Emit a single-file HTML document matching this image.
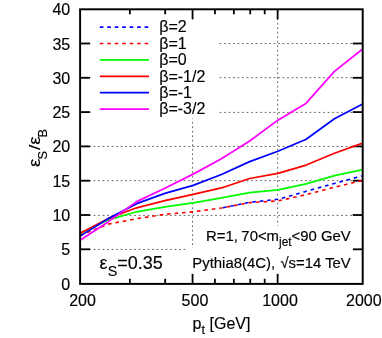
<!DOCTYPE html>
<html><head><meta charset="utf-8"><title>plot</title>
<style>html,body{margin:0;padding:0;background:#fff;overflow:hidden}svg{display:block;will-change:transform}text{font-family:"Liberation Sans",sans-serif;fill:#000;stroke:#000;stroke-width:0.15px}</style></head><body>
<svg width="382" height="338" viewBox="0 0 382 338">
<rect width="382" height="338" fill="#fff"/>
<g stroke="#585858" stroke-width="0.9" stroke-dasharray="1.8 2.7" fill="none">
<line x1="80.10" y1="249.45" x2="362.70" y2="249.45"/>
<line x1="80.10" y1="215.40" x2="362.70" y2="215.40"/>
<line x1="80.10" y1="180.65" x2="362.70" y2="180.65"/>
<line x1="80.10" y1="146.45" x2="362.70" y2="146.45"/>
<line x1="80.10" y1="112.40" x2="362.70" y2="112.40"/>
<line x1="80.10" y1="77.65" x2="362.70" y2="77.65"/>
<line x1="80.10" y1="43.55" x2="362.70" y2="43.55"/>
<line x1="192.56" y1="9.30" x2="192.56" y2="283.90"/>
<line x1="277.63" y1="9.30" x2="277.63" y2="283.90"/>
</g>
<g stroke="#000" stroke-width="1.8" fill="none">
<line x1="80.10" y1="249.30" x2="90.10" y2="249.30"/>
<line x1="362.70" y1="249.30" x2="352.70" y2="249.30"/>
<line x1="80.10" y1="215.00" x2="90.10" y2="215.00"/>
<line x1="362.70" y1="215.00" x2="352.70" y2="215.00"/>
<line x1="80.10" y1="180.70" x2="90.10" y2="180.70"/>
<line x1="362.70" y1="180.70" x2="352.70" y2="180.70"/>
<line x1="80.10" y1="146.40" x2="90.10" y2="146.40"/>
<line x1="362.70" y1="146.40" x2="352.70" y2="146.40"/>
<line x1="80.10" y1="112.10" x2="90.10" y2="112.10"/>
<line x1="362.70" y1="112.10" x2="352.70" y2="112.10"/>
<line x1="80.10" y1="77.80" x2="90.10" y2="77.80"/>
<line x1="362.70" y1="77.80" x2="352.70" y2="77.80"/>
<line x1="80.10" y1="43.50" x2="90.10" y2="43.50"/>
<line x1="362.70" y1="43.50" x2="352.70" y2="43.50"/>
<line x1="192.56" y1="283.90" x2="192.56" y2="273.70"/>
<line x1="192.56" y1="9.30" x2="192.56" y2="19.30"/>
<line x1="277.63" y1="283.90" x2="277.63" y2="273.70"/>
<line x1="277.63" y1="9.30" x2="277.63" y2="19.30"/>
<line x1="129.86" y1="283.90" x2="129.86" y2="278.80"/>
<line x1="129.86" y1="9.30" x2="129.86" y2="14.30"/>
<line x1="165.17" y1="283.90" x2="165.17" y2="278.80"/>
<line x1="165.17" y1="9.30" x2="165.17" y2="14.30"/>
<line x1="214.93" y1="283.90" x2="214.93" y2="278.80"/>
<line x1="214.93" y1="9.30" x2="214.93" y2="14.30"/>
<line x1="233.85" y1="283.90" x2="233.85" y2="278.80"/>
<line x1="233.85" y1="9.30" x2="233.85" y2="14.30"/>
<line x1="250.24" y1="283.90" x2="250.24" y2="278.80"/>
<line x1="250.24" y1="9.30" x2="250.24" y2="14.30"/>
<line x1="264.70" y1="283.90" x2="264.70" y2="278.80"/>
<line x1="264.70" y1="9.30" x2="264.70" y2="14.30"/>
</g>
<g fill="none" stroke-width="1.75" stroke-linejoin="round" stroke-linecap="butt">
<polyline points="221.40,208.00 249.66,202.31 277.92,199.29 306.18,191.33 334.44,183.44 362.70,175.69" stroke="#0000ff" stroke-dasharray="3.6 3.87" stroke-width="1.6" stroke-dashoffset="5.9"/>
<polyline points="80.10,235.24 108.36,224.12 136.62,218.70 164.88,214.31 193.14,211.84 221.40,208.00 249.66,202.65 277.92,200.94 306.18,194.63 334.44,187.22 362.70,180.36" stroke="#ff0000" stroke-dasharray="3.6 3.888" stroke-dashoffset="-0.1" stroke-width="1.6"/>
<polyline points="80.10,233.52 108.36,219.80 136.62,211.78 164.88,206.77 193.14,202.93 221.40,197.85 249.66,192.57 277.92,189.96 306.18,183.79 334.44,175.69 362.70,169.72" stroke="#00ff00"/>
<polyline points="80.10,233.32 108.36,218.43 136.62,207.80 164.88,200.59 193.14,194.42 221.40,187.97 249.66,178.50 277.92,173.36 306.18,165.06 334.44,153.26 362.70,143.18" stroke="#ff0000"/>
<polyline points="80.10,236.13 108.36,218.57 136.62,203.68 164.88,193.39 193.14,185.43 221.40,174.53 249.66,161.63 277.92,151.20 306.18,139.20 334.44,118.75 362.70,104.01" stroke="#0000ff"/>
<polyline points="80.10,240.31 108.36,221.65 136.62,201.62 164.88,188.25 193.14,174.11 221.40,158.75 249.66,140.98 277.92,120.13 306.18,103.18 334.44,71.42 362.70,48.99" stroke="#ff00ff"/>
</g>
<rect x="90.5" y="19.6" width="126.8" height="98.9" fill="#fff"/>
<rect x="200" y="226" width="152.5" height="23" fill="#fff"/>
<rect x="187" y="248" width="165.5" height="25.5" fill="#fff"/>
<rect x="80.10" y="9.30" width="282.60" height="274.60" stroke="#000" fill="none" stroke-width="1.95"/>
<g fill="none" stroke-width="1.75">
<line x1="99.8" y1="27.10" x2="149" y2="27.10" stroke="#0000ff" stroke-dasharray="3.6 3.87" stroke-width="1.6"/>
<line x1="99.8" y1="43.50" x2="149" y2="43.50" stroke="#ff0000" stroke-dasharray="3.6 3.87" stroke-width="1.6"/>
<line x1="99.8" y1="59.90" x2="149" y2="59.90" stroke="#00ff00"/>
<line x1="99.8" y1="76.30" x2="149" y2="76.30" stroke="#ff0000"/>
<line x1="99.8" y1="92.70" x2="149" y2="92.70" stroke="#0000ff"/>
<line x1="99.8" y1="109.10" x2="149" y2="109.10" stroke="#ff00ff"/>
</g>
<g font-size="16">
<text x="159.2" y="32.40">β=2</text>
<text x="159.2" y="48.80">β=1</text>
<text x="159.2" y="65.20">β=0</text>
<text x="159.2" y="81.60">β=-1/2</text>
<text x="159.2" y="98.00">β=-1</text>
<text x="159.2" y="114.40">β=-3/2</text>
</g>
<g font-size="16" text-anchor="end">
<text x="70.2" y="289.60">0</text>
<text x="70.2" y="255.30">5</text>
<text x="70.2" y="221.00">10</text>
<text x="70.2" y="186.70">15</text>
<text x="70.2" y="152.40">20</text>
<text x="70.2" y="118.10">25</text>
<text x="70.2" y="83.80">30</text>
<text x="70.2" y="49.50">35</text>
<text x="70.2" y="15.20">40</text>
</g>
<g font-size="16" text-anchor="middle">
<text x="82.50" y="305.6">200</text>
<text x="194.96" y="305.6">500</text>
<text x="280.03" y="305.6">1000</text>
<text x="363.85" y="305.6">2000</text>
</g>
<text x="192.6" y="329" font-size="16">p<tspan font-size="12.8" dy="4.5">t</tspan><tspan dy="-4.5"> [GeV]</tspan></text>
<g transform="translate(40.35,166.4) rotate(-90)" font-size="16">
<text transform="translate(-0.5,0) scale(1.18,1)">ε</text>
<text x="7.0" y="6.55" font-size="12.8">S</text>
<text transform="translate(16.4,0) scale(1.2,0.93)">/</text>
<text transform="translate(21.6,0) scale(1.18,1)">ε</text>
<text x="29.0" y="6.55" font-size="12.8">B</text>
</g>
<text x="99.6" y="269.2" font-size="18">ε<tspan font-size="14.4" dy="7.2">S</tspan><tspan dy="-7.2">=0.35</tspan></text>
<g font-size="14.9">
<text x="206" y="241">R=1,</text>
<text x="350.8" y="241" text-anchor="end">70&lt;m<tspan font-size="11.9" dy="5">jet</tspan><tspan dy="-5">&lt;90 GeV</tspan></text>
<text x="192.3" y="267.6">Pythia8(4C),</text>
<text x="350.8" y="267.6" text-anchor="end">√s=14 TeV</text>
</g>
</svg></body></html>
